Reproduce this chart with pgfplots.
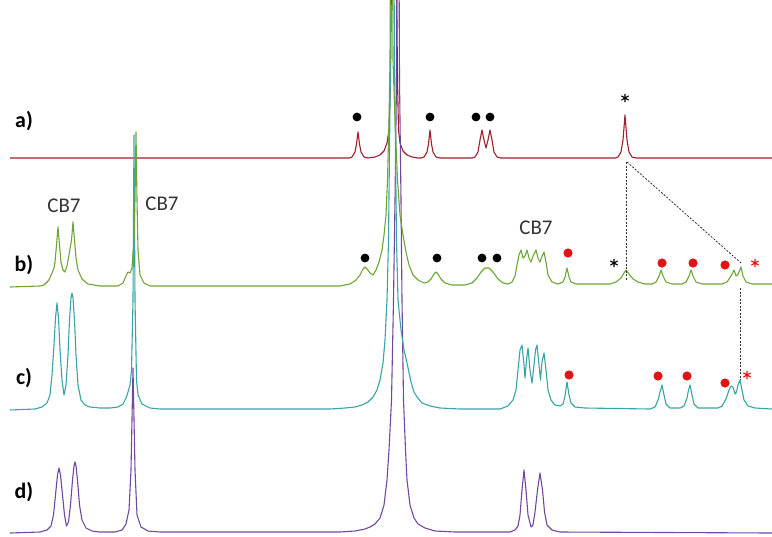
\documentclass[border=0pt]{standalone}
\usepackage{pgfplots}
\pgfplotsset{compat=1.18}
\usepackage{fontspec}
\setmainfont{Carlito}
\definecolor{specA}{RGB}{160,30,45}
\definecolor{specB}{RGB}{110,165,55}
\definecolor{specC}{RGB}{55,165,165}
\definecolor{specD}{RGB}{115,70,160}
\definecolor{dotred}{RGB}{225,20,20}
\begin{document}
\begin{tikzpicture}
\begin{axis}[
    scale only axis, width=772bp, height=537bp,
    xmin=0, xmax=772, ymin=0, ymax=537, y dir=reverse,
    hide axis, clip=true,
    every axis plot/.append style={line width=1.1bp, line join=round},
  ]
% a) red
\addplot[specA] coordinates {
(10,158)(349,158)(352,157)(355,152)(356.5,144)(358,132)(359.5,144)(361,152)(364,157)(368,158)(375,157)(380,155)(384,151)(387,143)(389,130)(390.5,80)(394,-300)(397.5,80)(398.5,130)(400,143)(403,151)(407,155)(412,157)(418,158)(421,158)(424,157)(427,152)(428.5,144)(430,130)(431.5,144)(433,152)(436,157)(440,158)(472,158)(475,157)(478,152)(480,140)(482,130)(484,140)(486,148)(488,140)(490,130)(492,140)(494,152)(497,157)(501,158)(615,158)(618,157)(621,152)(623,140)(625,115)(627,140)(629,152)(632,157)(636,158)(772,158)};
% d) purple
\addplot[specD] coordinates {
(10,533)(40,532)(47,530)(51,526)(53.5,515)(55.5,495)(57.5,475)(59,468)(60.5,475)(62.5,495)(64.5,515)(66.5,526)(68.5,522)(70.5,505)(72.5,480)(74,466)(75,462)(76,466)(77.5,480)(79.5,505)(82,520)(86,528)(92,531)(100,532)(115,532)(122,530)(126,524)(129,510)(131,470)(133,368)(135,470)(137,515)(141,527)(148,531)(160,532)
(340,532)(355,531)(365,529)(370,527)(375,524)(380,518)(384,505)(387,480)(389,450)(391.5,400)(393.5,300)(395,200)(396.5,80)(398,-300)(399.5,80)(401,200)(402,300)(403.5,400)(405.5,450)(407,480)(410,505)(414,518)(418,524)(425,528)(435,531)(455,532)
(510,532)(515,530)(518,526)(520,515)(522,490)(524,470)(526,490)(528,515)(531,527)(533,525)(535,512)(537.5,490)(540,473)(542.5,490)(544.5,512)(547,525)(552,530)(560,532)(772,533)};
% c) teal
\addplot[specC] coordinates {
(10,410)(35,409)(42,407)(47,403)(50,395)(52,375)(54,345)(55.5,318)(57,303)(58.5,318)(60,350)(62,380)(64,395)(66,385)(68,355)(69.5,320)(71,298)(72,293)(73,298)(74.5,320)(76,355)(78,385)(81,400)(85,405)(90,407)(100,408)(110,408)(118,407)(123,404)(126,398)(128,392)(130,385)(131.5,370)(133,300)(134,135)(135,300)(136.5,380)(138,395)(142,404)(150,408)(160,409)
(330,409)(345,408)(355,407)(362,405)(368,402)(373,397)(377,390)(380,380)(383,363)(385,340)(387,300)(388.5,240)(389.5,150)(390.5,60)(392.5,-300)(394.5,60)(395.5,150)(396.5,240)(398,300)(401,330)(404,350)(407,363)(411,382)(414,392)(417,397)(422,403)(430,406)(440,408)(460,409)
(500,409)(508,406)(513,400)(516,390)(518,370)(520,350)(522,345)(524,365)(525,378)(526.5,360)(528,348)(530,370)(532,383)(534,365)(535.5,350)(537,345)(539,365)(540.5,380)(542,362)(544,353)(546,370)(548,390)(551,400)(555,405)(560,406)(563,404)(565,396)(567,382)(569,395)(571,403)(575,407)(585,408)(650,409)(655,407)(658,400)(660,392)(662,385)(664,395)(666,404)(670,408)(680,408)(684,406)(687,398)(688.5,390)(690,385)(692,395)(694,404)(698,408)(718,408)(722,406)(726,399)(729,390)(731,386)(733,387)(735,394)(736.5,392)(738,385)(740,380)(742,390)(744,400)(748,406)(755,408)(772,409)};
% b) green
\addplot[specB] coordinates {
(10,287)(40,286)(44,285)(49,280)(52,273)(54,268)(55,262)(56.5,245)(58,227)(59.5,245)(61,262)(63,270)(65,272)(67,266)(69,255)(71.5,240)(73,222)(74.5,240)(76,258)(78,270)(82,279)(88,284)(100,286)(118,286)(123,283)(126,276)(128,272)(130,273)(132,268)(134,240)(135,200)(136,132)(137,200)(138,250)(140,275)(144,283)(150,286)
(340,286)(350,284)(356,280)(360,275)(363,269)(365,267)(367,269)(370,273)(373,275)(376,270)(379,262)(382,250)(384,235)(386,215)(387.5,180)(389,120)(390,60)(391.5,-300)(393,60)(395,120)(397.5,180)(400,215)(402.5,232)(406,252)(409,265)(413,275)(418,280)(424,283)(428,282)(431,279)(434,274)(436,272)(438,274)(441,279)(445,283)(452,285)(465,285)(472,283)(477,278)(481,272)(485,268)(489,268)(493,272)(498,279)(503,283)(508,284)(512,282)(515,276)(517,265)(519,255)(521,250)(523,258)(525,256)(527,250)(529,258)(531,262)(533,256)(536,250)(538,258)(540,262)(542,256)(544,252)(546,262)(548,275)(552,282)(558,284)(563,282)(565,277)(567,268)(569,277)(571,282)(576,284)(610,284)(616,282)(621,278)(624,273)(626,270)(629,274)(633,279)(638,282)(645,284)(652,284)(656,282)(659,276)(661,270)(663,276)(666,282)(672,284)(682,284)(686,282)(689,276)(691,270)(693,276)(696,282)(702,284)(722,284)(727,282)(731,276)(734,270)(736,276)(737.5,275)(739,272)(741,267)(743,276)(746,282)(752,284)(772,284)};
% dashed guides
\addplot[gray!40!black, line width=0.8bp, dash pattern=on 2bp off 1.5bp] coordinates {(626,162)(626,280)};
\addplot[gray!40!black, line width=0.8bp, dash pattern=on 2bp off 1.5bp] coordinates {(627,162)(741,263)};
\addplot[gray!40!black, line width=0.8bp, dash pattern=on 2bp off 1.5bp] coordinates {(740,288)(740,380)};
% markers
\addplot[only marks, mark=*, mark size=3.8bp, black] coordinates {(357,117)(430,117)(476,117)(490,117)(365,258)(437,258)(482,258)(497,258)};
\addplot[only marks, mark=*, mark size=4bp, dotred] coordinates {(568,253)(662,263)(693,263)(725,265)(569,375)(658,376)(687,376)(725,383)};
\addplot[only marks, mark=asterisk, mark size=4.2bp, black, line width=1.1bp] coordinates {(625,98)(614,263)};
\addplot[only marks, mark=asterisk, mark size=4.2bp, dotred, line width=1.1bp] coordinates {(755,263)(747,375)};
% labels
\node[font=\fontsize{22}{26}\selectfont\bfseries] at (axis cs:24,121) {a)};
\node[font=\fontsize{22}{26}\selectfont\bfseries] at (axis cs:24,265) {b)};
\node[font=\fontsize{22}{26}\selectfont\bfseries] at (axis cs:24,378) {c)};
\node[font=\fontsize{22}{26}\selectfont\bfseries] at (axis cs:24,492) {d)};
\node[font=\fontsize{21}{25}\selectfont, text=black!80] at (axis cs:64,206) {CB7};
\node[font=\fontsize{21}{25}\selectfont, text=black!80] at (axis cs:162,204) {CB7};
\node[font=\fontsize{21}{25}\selectfont, text=black!80] at (axis cs:536,228) {CB7};
\end{axis}
\pgfresetboundingbox
\path (0,0) rectangle (772bp,537bp);
\end{tikzpicture}
\end{document}
